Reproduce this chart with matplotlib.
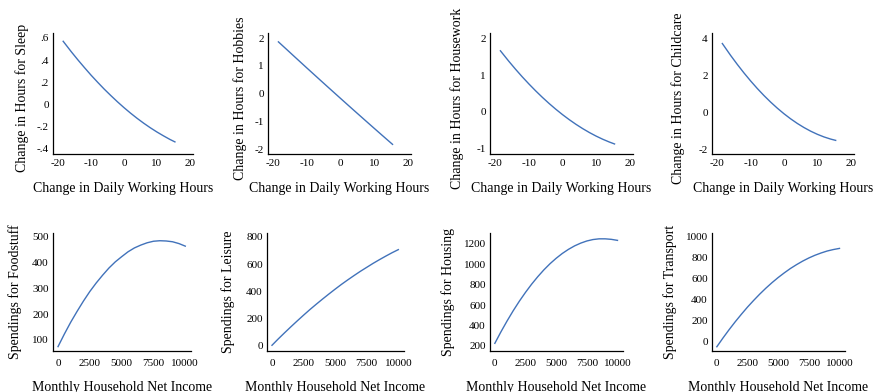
import matplotlib
matplotlib.use("Agg")
from matplotlib import pyplot as plt

plt.rcParams['font.family'] = ['Liberation Serif', 'DejaVu Serif']
plt.rcParams['axes.unicode_minus'] = False

# top row: change in daily working hours vs change in hours for activities
work_change = [-18.5, -16, -14, -12, -10, -8, -6, -4, -2, 0,
               2, 4, 6, 8, 10, 12, 14, 15.5]
sleep = [0.57, 0.474, 0.401, 0.331, 0.263, 0.199, 0.137, 0.079, 0.023, -0.03,
         -0.080, -0.127, -0.171, -0.212, -0.25, -0.285, -0.318, -0.34]
hobbies = [1.87, 1.592, 1.369, 1.147, 0.925, 0.705, 0.485, 0.266, 0.048, -0.17,
           -0.387, -0.603, -0.818, -1.033, -1.247, -1.460, -1.672, -1.83]
housework = [1.66, 1.375, 1.158, 0.951, 0.755, 0.568, 0.391, 0.224, 0.067, -0.08,
             -0.217, -0.344, -0.461, -0.568, -0.665, -0.752, -0.829, -0.88]
childcare = [3.72, 3.074, 2.588, 2.127, 1.693, 1.285, 0.904, 0.550, 0.222, -0.08,
             -0.355, -0.604, -0.826, -1.022, -1.191, -1.334, -1.450, -1.52]

# bottom row: monthly household net income vs spendings
income = [0, 500, 1000, 1500, 2000, 2500, 3000, 3500, 4000, 4500, 5000,
          5500, 6000, 6500, 7000, 7500, 8000, 8500, 9000, 9500, 10000]
foodstuff = [74, 123, 169, 211, 251, 288, 321, 351, 379, 403, 423,
             442, 457, 468, 477, 483, 485, 484, 481, 474, 464]
leisure = [5, 52, 97, 141, 184, 226, 267, 306, 344, 381, 417,
           452, 485, 517, 548, 577, 606, 633, 659, 684, 707]
housing = [226, 339, 445, 545, 638, 724, 804, 877, 944, 1004, 1057,
           1104, 1144, 1178, 1205, 1226, 1240, 1247, 1247, 1242, 1232]
transport = [-55, 29, 109, 185, 257, 326, 390, 451, 508, 561, 610,
             655, 697, 734, 768, 798, 824, 846, 865, 879, 890]

top_series = [
    (sleep, "Change in Hours for Sleep", [.6, .4, .2, 0, -.2, -.4],
     [".6", ".4", ".2", "0", "-.2", "-.4"], (-0.445, 0.645)),
    (hobbies, "Change in Hours for Hobbies", [2, 1, 0, -1, -2],
     ["2", "1", "0", "-1", "-2"], (-2.16, 2.19)),
    (housework, "Change in Hours for Housework", [2, 1, 0, -1],
     ["2", "1", "0", "-1"], (-1.14, 2.145)),
    (childcare, "Change in Hours for Childcare", [4, 2, 0, -2],
     ["4", "2", "0", "-2"], (-2.23, 4.29)),
]
bottom_series = [
    (foodstuff, "Spendings for Foodstuff", [100, 200, 300, 400, 500], (57, 515)),
    (leisure, "Spendings for Leisure", [0, 200, 400, 600, 800], (-37, 829)),
    (housing, "Spendings for Housing", [200, 400, 600, 800, 1000, 1200], (151, 1304)),
    (transport, "Spendings for Transport", [0, 200, 400, 600, 800, 1000], (-96, 1038)),
]

W, H = 877, 392
LINE = '#4172ba'

fig = plt.figure(figsize=(W / 100, H / 100), dpi=100)


def make_ax(l, r, top, bot):
    return fig.add_axes([l / W, 1 - bot / H, (r - l) / W, (bot - top) / H])


def style(ax):
    for s in ['top', 'right']:
        ax.spines[s].set_visible(False)
    for s in ['left', 'bottom']:
        ax.spines[s].set_linewidth(0.9)
    ax.tick_params(length=0, labelsize=8)


top_lefts = [53, 268, 490, 712]
top_rights = [193, 411, 633, 854]
top_ylab_off = [31, 28, 33, 34]
for (vals, lab, ticks, tlabels, ylim), l, r, off in zip(top_series, top_lefts,
                                                       top_rights, top_ylab_off):
    ax = make_ax(l, r, 33, 153.5)
    ax.plot(work_change, vals, color=LINE, lw=1)
    ax.set_xlim(-21.6, 21)
    ax.set_ylim(*ylim)
    ax.set_xticks([-20, -10, 0, 10, 20])
    ax.set_yticks(ticks)
    ax.set_yticklabels(tlabels)
    style(ax)
    ax.tick_params(axis='x', pad=4)
    ax.tick_params(axis='y', pad=3)
    ax.set_xlabel("Change in Daily Working Hours", fontsize=10, labelpad=10)
    ax.set_ylabel(lab, fontsize=10, va='center')
    ax.yaxis.set_label_coords(-off / (r - l), 0.46)

bot_lefts = [53, 267, 490, 712]
bot_rights = [191, 404, 623, 845]
bot_ylab_off = [38, 39, 42, 42]
for (vals, lab, ticks, ylim), l, r, off in zip(bottom_series, bot_lefts,
                                              bot_rights, bot_ylab_off):
    ax = make_ax(l, r, 233, 351)
    ax.plot(income, vals, color=LINE, lw=1)
    ax.set_xlim(-395, 10450)
    ax.set_ylim(*ylim)
    ax.set_xticks([0, 2500, 5000, 7500, 10000])
    ax.set_yticks(ticks)
    style(ax)
    ax.tick_params(axis='x', pad=6)
    ax.tick_params(axis='y', pad=3)
    ax.set_xlabel("Monthly Household Net Income", fontsize=10, labelpad=9)
    ax.set_ylabel(lab, fontsize=10, va='center')
    ax.yaxis.set_label_coords(-off / (r - l), 0.5)

fig.savefig("out.png", dpi=100)
